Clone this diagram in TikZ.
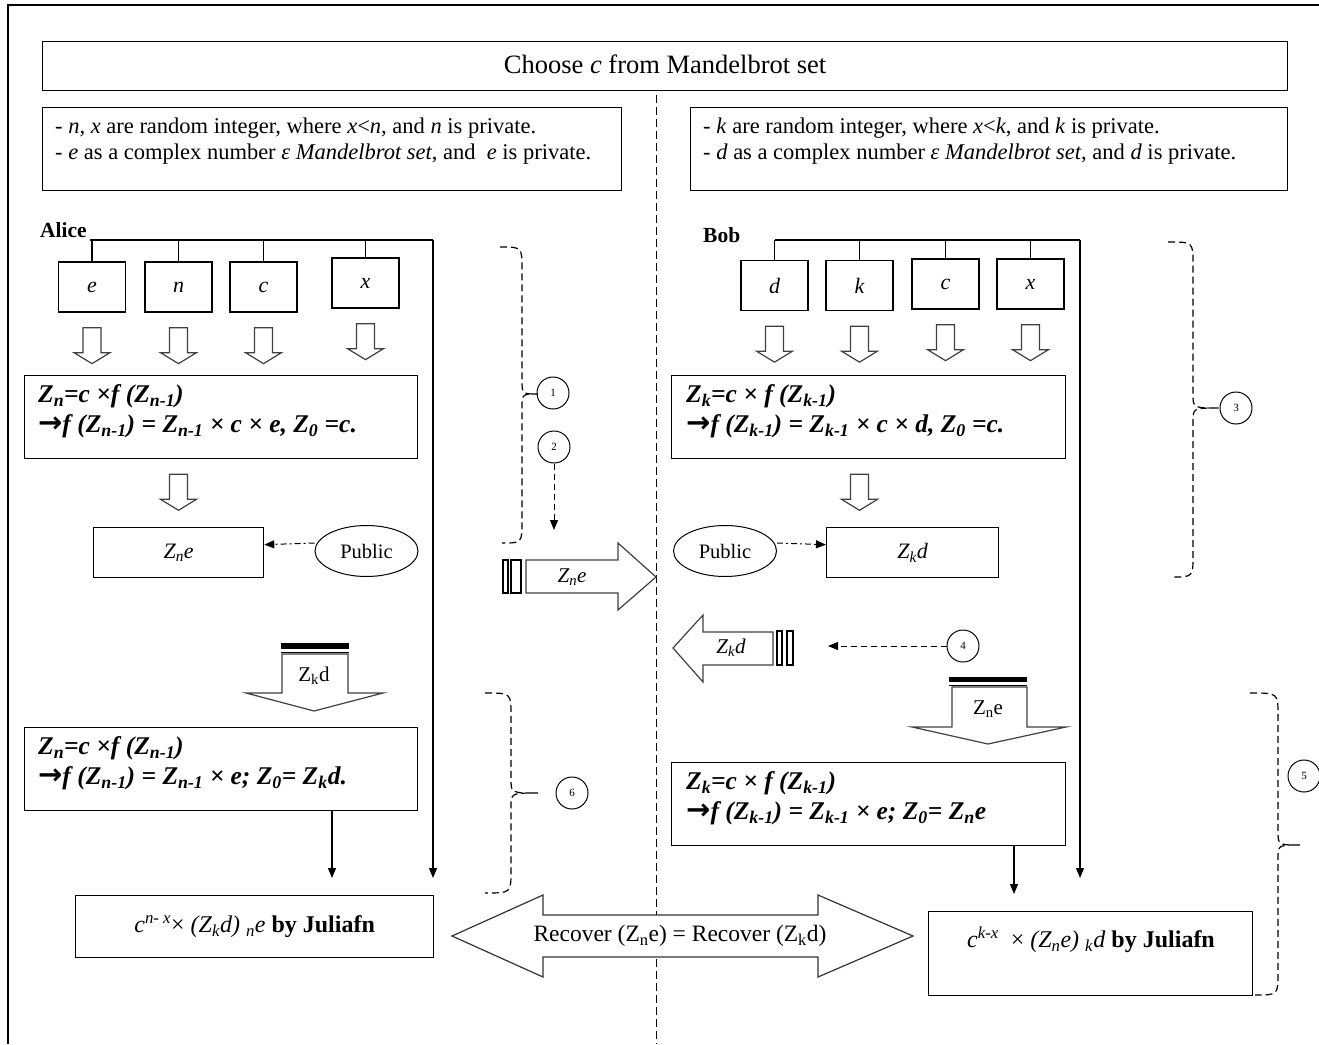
\documentclass[tikz,border=0pt]{standalone}
\usepackage{fontspec}
\setmainfont{Liberation Serif}
\newfontfamily\symfont{DejaVu Sans}
\usetikzlibrary{arrows.meta,shapes.geometric,positioning}
\newcommand{\sub}[1]{\textsubscript{#1}}
\newcommand{\fs}[2]{\fontsize{#1}{#2}\selectfont}
\newcommand{\impl}{{\symfont\bfseries\upshape\fontsize{29}{30}\selectfont →}}

\tikzset{
  box/.style={draw,line width=1.3pt,inner sep=0pt,anchor=north west},
  var/.style={draw,line width=1.3pt,minimum width=67,minimum height=50,inner sep=0pt,font=\fs{22}{24}\itshape},
  txt/.style={inner sep=0pt,anchor=north west,align=left,font=\fs{22.5}{26}},
  frm/.style={inner sep=0pt,anchor=west,align=left,font=\fs{25.5}{30}\bfseries\itshape},
  pub/.style={draw,ellipse,line width=1pt,minimum width=103,minimum height=51,inner sep=0pt,font=\fs{20.5}{22}},
  num/.style={draw,circle,line width=1pt,minimum size=32,inner sep=0pt,font=\fs{11}{12}},
  wire/.style={line width=1.2pt},
  tip/.style={-{Triangle[length=10pt,width=8pt]}},
  brace/.style={line width=1.2pt,dash pattern=on 7pt off 4pt},
  hol/.style={draw=black!75,line width=1.2pt,fill=white},
  hollow/.pic={\draw[hol] (-9,0) -- (9,0) -- (9,25) -- (18,25) -- (0,36) -- (-18,25) -- (-9,25) -- cycle;},
}

\begin{document}
\begin{tikzpicture}[x=1pt,y=-1pt]
\useasboundingbox (0,0) rectangle (1319,1044);
\draw[wire] (8,1044) -- (8,5) -- (1319,5);
\draw[line width=1pt,dash pattern=on 8pt off 4pt] (656,95) -- (656,1044);

% head boxes
\node[box,minimum width=1245,minimum height=49] (title) at (42,41) {};
\node[font=\fs{26.5}{28}] (titletxt) at ([yshift=2]title.center) {Choose \textit{c} from Mandelbrot set};
\node[box,minimum width=579,minimum height=83] (infoA) at (42,107) {};
\node[txt] (infoAtxt) at (55,118) {- \textit{n, x} are random integer, where \textit{x}<\textit{n}, and \textit{n} is private.\\
  - \textit{e} as a complex number \textit{ε Mandelbrot set}, and~ \textit{e} is private.};
\node[box,minimum width=597,minimum height=83] (infoB) at (690,107) {};
\node[txt] (infoBtxt) at (703,118) {- \textit{k} are random integer, where \textit{x}<\textit{k}, and \textit{k} is private.\\
  - \textit{d} as a complex number \textit{ε Mandelbrot set}, and \textit{d} is private.};

% Alice
\node[anchor=west,inner sep=0pt,font=\fs{21.5}{22}\bfseries] (alice) at (40,230) {Alice};
\coordinate (aC) at (433,240);
\draw[wire] ([xshift=3]alice.east |- aC) -- (aC);
\foreach \nm/\t/\x/\y in {ae/e/92/287,an/n/178.5/287,ac/c/263.5/287,ax/x/365.5/283}{
  \node[var] (\nm) at (\x,\y) {\t};
  \draw[wire] (\nm.north) -- (\nm.north |- aC);
  \pic at ([yshift=-15]\nm.south) {hollow};
}
\node[box,minimum width=393,minimum height=83] (fA) at (24,375) {};
\node[frm] (fAtxt) at (38,411) {Z\sub{n}=c ×f (Z\sub{n-1})\\ \impl f (Z\sub{n-1}) = Z\sub{n-1} × c × e, Z\sub{0} =c.};
\pic at ([yshift=-15]fA.south -| an) {hollow};
\node[box,minimum width=170,minimum height=50,font=\fs{22}{24}\itshape] (zneA) at (93,527) {Z\sub{n}e};
\node[pub] (pubA) at (366.5,551) {Public};
\draw[line width=1pt,dash pattern=on 6pt off 3pt on 2pt off 3pt,tip] ([yshift=8]pubA.west) -- ([yshift=8]zneA.east);

% Zkd arrives
\fill (281,643) rectangle (349,649);
\draw[line width=1pt] (281,652) -- (349,652);
\draw[hol] (282,654) -- (282,693) -- (246,693) -- (314,711) -- (383,693) -- (348,693) -- (348,654) -- cycle;
\node[font=\fs{21}{22}] (zkdA) at (314,676) {Z\sub{k}d};

\node[box,minimum width=393,minimum height=83] (fA2) at (24,727) {};
\node[frm] (fA2txt) at (38,763) {Z\sub{n}=c ×f (Z\sub{n-1})\\ \impl f (Z\sub{n-1}) = Z\sub{n-1} × e; Z\sub{0}= Z\sub{k}d.};
\node[box,minimum width=358,minimum height=62,font=\fs{24}{26}] (julA) at (75,895)
  {\textit{c}\textsuperscript{\textit{n- x}}× \textit{(Z\sub{k}d)} \sub{\textit{n}}\textit{e} \textbf{by Juliafn}};
\coordinate (aD) at (332,0);
\draw[wire,tip] (fA2.south -| aD) -- ([yshift=17]julA.north -| aD);
\draw[wire,tip] (aC) -- ([yshift=17]julA.north -| aC);

% Bob
\node[anchor=west,inner sep=0pt,font=\fs{21.5}{22}\bfseries] (bob) at (703,235) {Bob};
\coordinate (bC) at (1080,240);
\foreach \nm/\t/\x/\y in {bd/d/774.5/285.5,bk/k/859.5/285.5,bc/c/945.5/284,bx/x/1030.5/284}{
  \node[var] (\nm) at (\x,\y) {\t};
  \draw[wire] (\nm.north) -- (\nm.north |- bC);
  \pic at ([yshift=-15]\nm.south) {hollow};
}
\draw[wire] (bd.north |- bC) -- (bC);
\node[box,minimum width=394,minimum height=83] (fB) at (671,375) {};
\node[frm] (fBtxt) at (686,411) {Z\sub{k}=c × f (Z\sub{k-1})\\ \impl f (Z\sub{k-1}) = Z\sub{k-1} × c × d, Z\sub{0} =c.};
\pic at ([yshift=-15]fB.south -| bk) {hollow};
\node[pub] (pubB) at (725,551) {Public};
\node[box,minimum width=172,minimum height=50,font=\fs{22}{24}\itshape] (zkdB) at (826,527) {Z\sub{k}d};
\draw[line width=1pt,dash pattern=on 6pt off 3pt on 2pt off 3pt,tip] ([yshift=8]pubB.east) -- ([yshift=8]zkdB.west);

% exchange
\draw[wire] (503,560) rectangle (508,593);
\draw[wire] (511,560) rectangle (521,593);
\draw[hol] (526,560) -- (618,560) -- (618,543) -- (656,577) -- (618,610) -- (618,593) -- (526,593) -- cycle;
\node[font=\fs{21}{22}\itshape] (zneM) at (572,577) {Z\sub{n}e};
\draw[wire] (777,631) rectangle (782,665);
\draw[wire] (787,631) rectangle (793,665);
\draw[hol] (773,632) -- (703,632) -- (703,615) -- (673,648) -- (703,682) -- (703,665) -- (773,665) -- cycle;
\node[font=\fs{21}{22}\itshape] (zkdM) at (731,648) {Z\sub{k}d};

\node[num] (n1) at (553,393) {1};
\node[num] (n2) at (554,447) {2};
\coordinate (n2e) at (554,530);
\draw[line width=1pt,dash pattern=on 6pt off 4pt,tip] (n2) -- (n2e);
\node[num] (n4) at (963,646) {4};
\coordinate (n4e) at (828,646);
\draw[line width=1pt,dash pattern=on 6pt off 4pt,tip] (n4) -- (n4e);

% Zne arrives
\fill (949,677) rectangle (1027,682);
\draw[line width=1pt] (949,685) -- (1027,685);
\draw[hol] (952,687) -- (952,727) -- (912,727) -- (988,744) -- (1066,727) -- (1027,727) -- (1027,687) -- cycle;
\node[font=\fs{21}{22}] (zneB) at (988,709) {Z\sub{n}e};

\node[box,minimum width=394,minimum height=83] (fB2) at (671,762) {};
\node[frm] (fB2txt) at (686,798) {Z\sub{k}=c × f (Z\sub{k-1})\\ \impl f (Z\sub{k-1}) = Z\sub{k-1} × e; Z\sub{0}= Z\sub{n}e};
\node[box,minimum width=324,minimum height=84] (julB) at (928,911) {};
\node[font=\fs{24}{26}] (julBtxt) at (1091,940)
  {\textit{c}\textsuperscript{\textit{k-x}}~ × \textit{(Z\sub{n}e)} \sub{\textit{k}}\textit{d} \textbf{by Juliafn}};
\coordinate (bD) at (1014,0);
\draw[wire,tip] (fB2.south -| bD) -- ([yshift=17]julB.north -| bD);
\draw[wire,tip] (bC) -- ([yshift=33]julB.north -| bC);

% recover
\draw[hol,draw=black!80] (452,936) -- (543,895) -- (543,915) -- (818,915) -- (818,895) -- (913,936) -- (818,977) -- (818,957) -- (543,957) -- (543,977) -- cycle;
\node[font=\fs{23.5}{24}] (rec) at (680,936) {Recover (Z\sub{n}e) = Recover (Z\sub{k}d)};

% braces
\foreach \xa/\ya/\xv/\yt/\xt/\xb/\yb in {500/247/522/394/538/502/543,1168/242/1193/408/1219/1172/577,485/693/511/793/538/485/893,1250/693/1278/845/1300/1255/995}
  \draw[brace] (\xa,\ya) .. controls (\xv,\ya) .. ({\xv},{\ya+22}) -- ({\xv},{\yt-14}) .. controls (\xv,\yt) .. (\xt,\yt)
    .. controls (\xv,\yt) .. ({\xv},{\yt+14}) -- ({\xv},{\yb-22}) .. controls (\xv,\yb) .. (\xb,\yb);
\node[num] (n3) at (1236,408) {3};
\node[num] (n5) at (1304,776) {5};
\node[num] (n6) at (572,793) {6};
\end{tikzpicture}
\end{document}
